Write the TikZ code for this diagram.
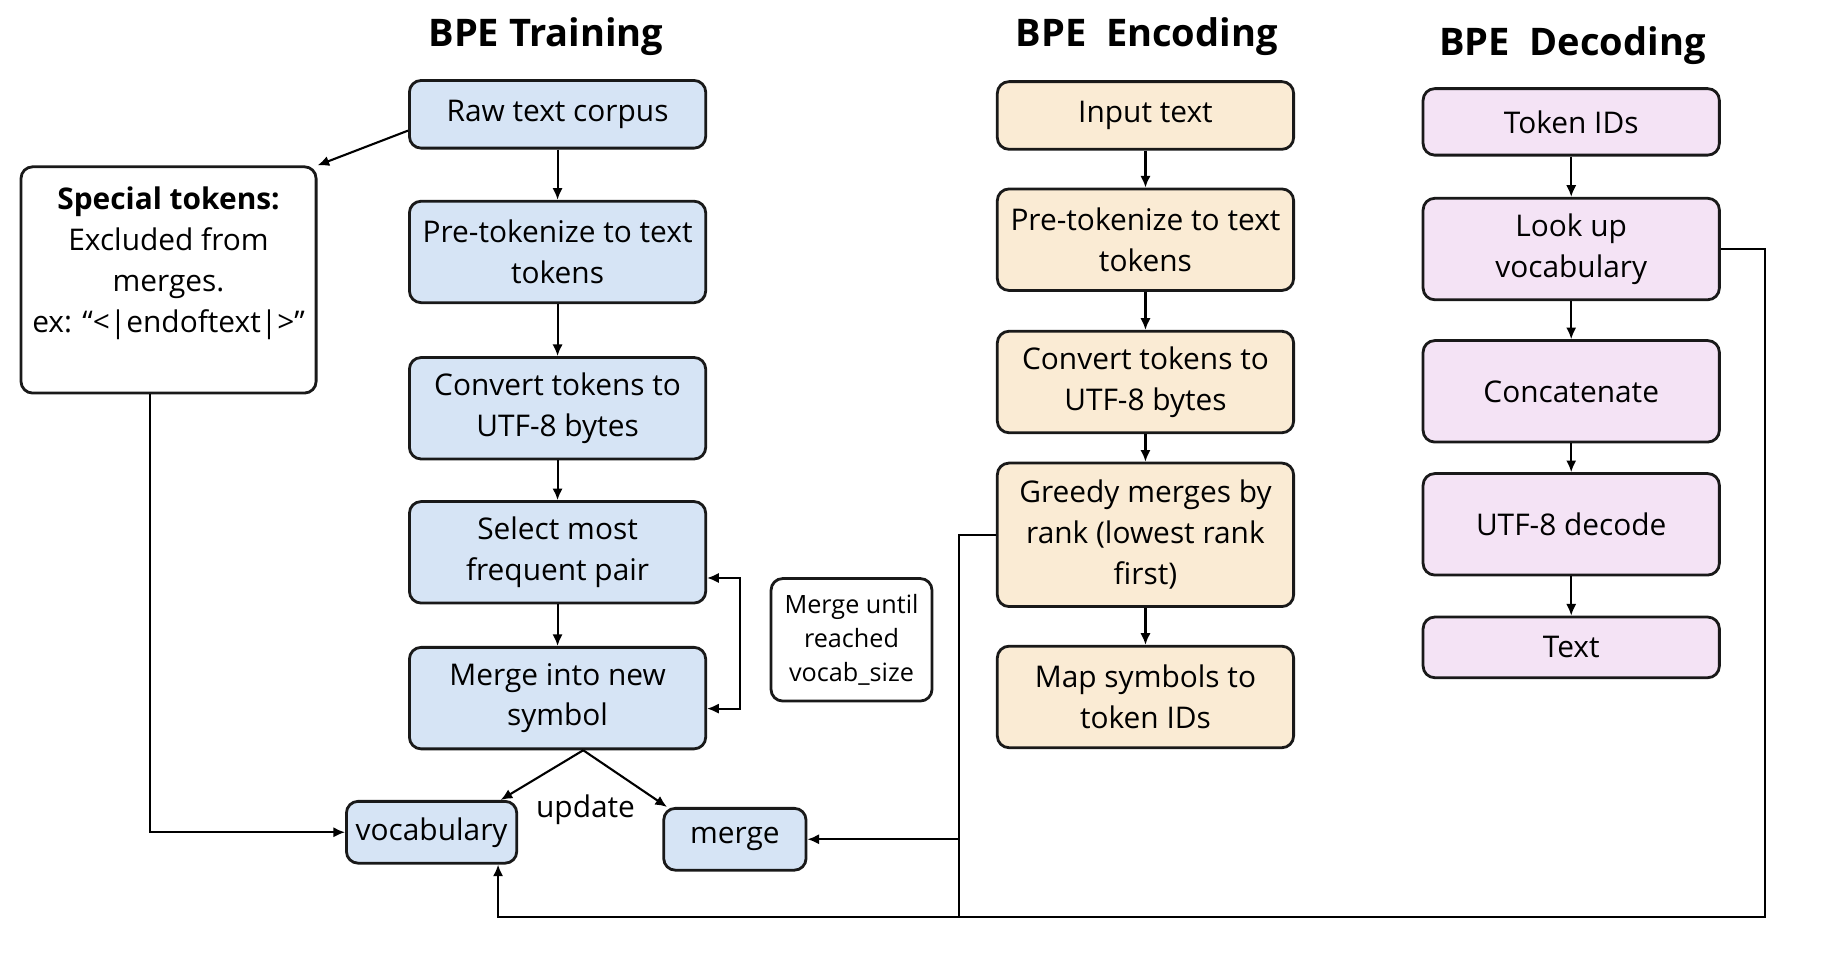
\documentclass[tikz,border=0pt]{standalone}
\usepackage{fontspec}
\setmainfont{Open Sans}
\usepackage{xcolor}
\usepackage{tikz}
\usetikzlibrary{arrows.meta,calc,positioning}
\definecolor{trainblue}{HTML}{D6E4F5}
\definecolor{encbeige}{HTML}{FAEBD4}
\definecolor{decpink}{HTML}{F4E3F5}

\begin{document}
\begin{tikzpicture}[x=0.5pt,y=-0.5pt,
  box/.style={draw=black!90,line width=1.2pt,rounded corners=5pt,align=center,
    minimum width=127pt,minimum height=43.5pt,inner sep=2pt,
    font=\fontsize{12.8}{17.5}\selectfont},
  train/.style={box,fill=trainblue},
  enc/.style={box,fill=encbeige},
  dec/.style={box,fill=decpink},
  title/.style={font=\fontsize{16.3}{19}\selectfont\bfseries},
  flow/.style={line width=0.9pt,-{Latex[length=5pt,width=4.4pt]}},
  both/.style={line width=0.9pt,{Latex[length=5pt,width=4.4pt]}-{Latex[length=5pt,width=4.4pt]}},
  wire/.style={line width=0.9pt}]
\useasboundingbox (0,0) rectangle (1568,822);

% titles
\node[title] (ttrain) at (468,31) {BPE Training};
\node[title] (tenc) at (983,31) {BPE\ \ Encoding};
\node[title] (tdec) at (1348,39) {BPE\ \ Decoding};

% training
\node[train,minimum height=29pt] (raw) at (478,98) {Raw text corpus};
\node[train] (pretok) at (478,216) {Pre-tokenize to text\\tokens};
\node[train] (utf) at (478,350) {Convert tokens to\\UTF-8 bytes};
\node[train] (select) at (478,473.5) {Select most\\frequent pair};
\node[train] (mergesym) at (478,598.5) {Merge into new\\symbol};
\node[train,minimum width=73pt,minimum height=26.5pt] (vocab) at (370,713.5) {vocabulary};
\node[train,minimum width=61pt,minimum height=26.5pt] (mrg) at (630,719.5) {merge};
\node[box,minimum width=126.5pt,minimum height=97pt] (special) at (144.5,240)
  {\textbf{Special tokens:}\\Excluded from\\merges.\\ex: “<|endoftext|>”\\\mbox{}};
\node[box,minimum width=69pt,minimum height=52.5pt,font=\fontsize{10.8}{14.5}\selectfont] (until) at (730,548.5)
  {Merge until\\reached\\vocab\_size};
\node[font=\fontsize{12.8}{17.5}\selectfont] (update) at (502,694) {update};

% encoding
\node[enc,minimum height=29pt] (input) at (982,99) {Input text};
\node[enc] (epretok) at (982,205.5) {Pre-tokenize to text\\tokens};
\node[enc] (eutf) at (982,327.5) {Convert tokens to\\UTF-8 bytes};
\node[enc,minimum height=61.5pt] (greedy) at (982,458.5) {Greedy merges by\\rank (lowest rank\\first)};
\node[enc] (map) at (982,597.5) {Map symbols to\\token IDs};

% decoding
\node[dec,minimum height=28.5pt] (ids) at (1347,104.5) {Token IDs};
\node[dec] (lookup) at (1347,213.5) {Look up\\vocabulary};
\node[dec] (concat) at (1347,335.5) {Concatenate};
\node[dec] (decode) at (1347,449.5) {UTF-8 decode};
\node[dec,minimum height=26pt] (outtext) at (1347,555) {Text};

% connectors
\foreach \a/\b in {raw/pretok,pretok/utf,utf/select,select/mergesym,
  input/epretok,epretok/eutf,eutf/greedy,greedy/map,
  ids/lookup,lookup/concat,concat/decode,decode/outtext}
  \draw[flow] (\a) -- (\b);
\draw[flow] ([yshift=-7pt]raw.west) -- (special.north east);
\draw[both] ([yshift=-11pt]select.east) -- ++(28,0) |- ([yshift=-4.5pt]mergesym.east);
\coordinate (fork) at ([xshift=11pt]mergesym.south);
\draw[flow] (fork) -- ([xshift=-7.5pt]vocab.north east);
\draw[flow] (fork) -- ([xshift=2pt]mrg.north west);
\draw[flow] ([xshift=-8pt]special.south) |- (vocab.west);
\coordinate (busR) at (1513,786);
\coordinate (busM) at (822,786);
\draw[flow] (lookup.east) -| (busR) -| ([xshift=28.5pt]vocab.south);
\draw[wire] (greedy.west) -| (busM);
\draw[flow] (busM |- mrg.east) -- (mrg.east);
\end{tikzpicture}
\end{document}
